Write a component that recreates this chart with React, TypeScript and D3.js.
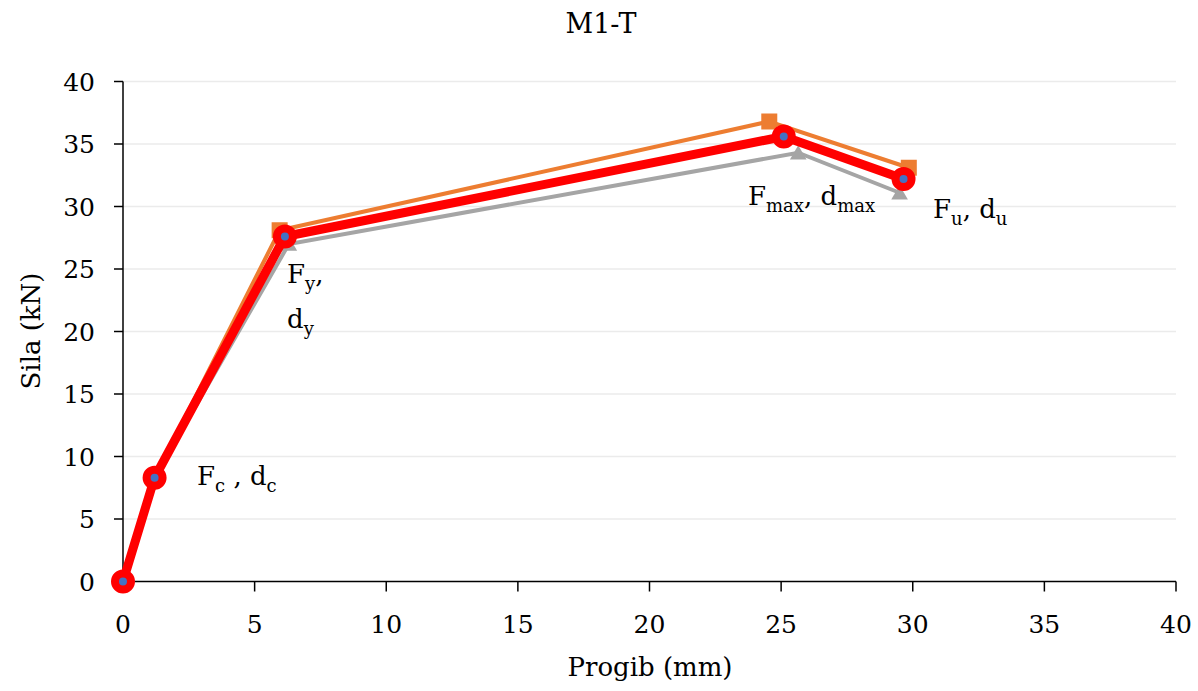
import React from "react";
import * as d3 from "d3";

const orangeX = [0, 1.2, 5.95, 24.55, 29.85];
const orangeY = [0, 8.3, 28.1, 36.8, 33.1];
const grayX = [0, 1.2, 6.3, 25.65, 29.5];
const grayY = [0, 8.3, 27.0, 34.3, 31.1];
const redX = [0, 1.2, 6.15, 25.1, 29.65];
const redY = [0, 8.3, 27.6, 35.6, 32.2];
const xTicks = [0, 5, 10, 15, 20, 25, 30, 35, 40];
const yTicks = [0, 5, 10, 15, 20, 25, 30, 35, 40];

const W = 1198, H = 691;
const FONT = "'DejaVu Serif', serif";

export default function App() {
  const x = d3.scaleLinear().domain([0, 40]).range([123, 1176]);
  const y = d3.scaleLinear().domain([0, 40]).range([581.5, 81.5]);
  const line = d3.line<[number, number]>().x(d => x(d[0])).y(d => y(d[1]));
  const pts = (xs: number[], ys: number[]) => xs.map((v, i) => [v, ys[i]] as [number, number]);
  const o = pts(orangeX, orangeY), g = pts(grayX, grayY), r = pts(redX, redY);
  const tri = d3.symbol().type(d3.symbolTriangle).size(120)() as string;
  return (
    <svg width={W} height={H} style={{ position: "absolute", left: 0, top: 0, background: "#fff" }} fontFamily={FONT}>
      {yTicks.filter(t => t > 0).map(t => (
        <line key={"g" + t} x1={123} x2={1176} y1={y(t)} y2={y(t)} stroke="#ebebeb" strokeWidth={1.5} />
      ))}
      <line x1={123} x2={123} y1={y(40)} y2={y(0)} stroke="#000" strokeWidth={1.5} />
      <line x1={123} x2={1176} y1={y(0)} y2={y(0)} stroke="#000" strokeWidth={1.5} />
      {yTicks.map(t => (
        <g key={"y" + t}>
          <line x1={114} x2={123} y1={y(t)} y2={y(t)} stroke="#000" strokeWidth={1.5} />
          <text x={95} y={y(t)} dy="0.36em" textAnchor="end" fontSize={25}>{t}</text>
        </g>
      ))}
      {xTicks.map(t => (
        <g key={"x" + t}>
          <line x1={x(t)} x2={x(t)} y1={y(0)} y2={y(0) + 10} stroke="#000" strokeWidth={1.5} />
          <text x={x(t)} y={633} textAnchor="middle" fontSize={25}>{t}</text>
        </g>
      ))}
      <text x={601} y={33} textAnchor="middle" fontSize={27}>M1-T</text>
      <text x={650} y={676} textAnchor="middle" fontSize={26}>Progib (mm)</text>
      <text transform="translate(40,331) rotate(-90)" textAnchor="middle" fontSize={26}>Sila (kN)</text>

      <path d={line(g) || ""} fill="none" stroke="#a5a5a5" strokeWidth={4} />
      {g.map((p, i) => (
        <path key={"gt" + i} d={tri} transform={`translate(${x(p[0])},${y(p[1]) + 2})`} fill="#a5a5a5" />
      ))}
      <path d={line(o) || ""} fill="none" stroke="#ed7d31" strokeWidth={4} />
      {o.map((p, i) => (
        <rect key={"os" + i} x={x(p[0]) - 8} y={y(p[1]) - 8} width={16} height={16} fill="#ed7d31" />
      ))}
      <path d={line(r) || ""} fill="none" stroke="#ff0000" strokeWidth={9} strokeLinejoin="round" />
      {r.map((p, i) => (
        <g key={"rc" + i}>
          <circle cx={x(p[0])} cy={y(p[1])} r={8} fill="#4472c4" stroke="#ff0000" strokeWidth={8} />
        </g>
      ))}

      <text x={197} y={485} fontSize={26}>F<tspan fontSize={18} dy={7}>c</tspan><tspan dy={-7}> , d</tspan><tspan fontSize={18} dy={7}>c</tspan></text>
      <text x={287} y={283} fontSize={26}>F<tspan fontSize={18} dy={7}>y</tspan><tspan dy={-7}>,</tspan></text>
      <text x={287} y={328} fontSize={26}>d<tspan fontSize={18} dy={7}>y</tspan></text>
      <text x={748} y={205} fontSize={26}>F<tspan fontSize={18} dy={7}>max</tspan><tspan dy={-7}>, d</tspan><tspan fontSize={18} dy={7}>max</tspan></text>
      <text x={933} y={218} fontSize={26}>F<tspan fontSize={18} dy={7}>u</tspan><tspan dy={-7}>, d</tspan><tspan fontSize={18} dy={7}>u</tspan></text>
    </svg>
  );
}
